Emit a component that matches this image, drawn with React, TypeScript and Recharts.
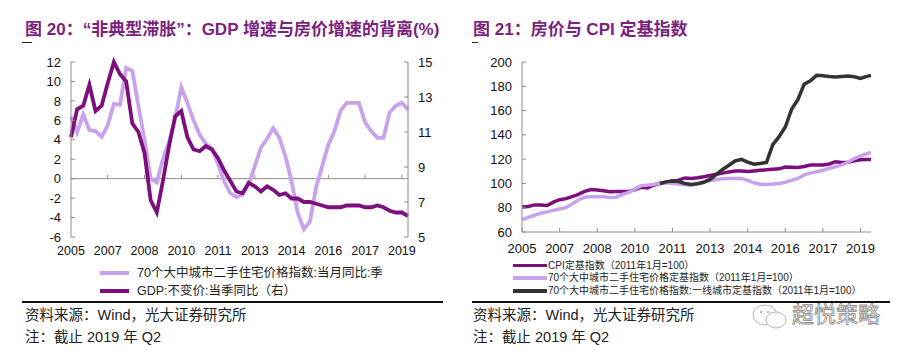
import React from 'react';
import { LineChart, Line, XAxis, YAxis, ReferenceLine } from 'recharts';

// ---- left chart (fig 20): quarterly, 2005Q3 .. 2019Q2 ----
const leftQuarters = [
  '2005Q3', '2005Q4',
  '2006Q1', '2006Q2', '2006Q3', '2006Q4',
  '2007Q1', '2007Q2', '2007Q3', '2007Q4',
  '2008Q1', '2008Q2', '2008Q3', '2008Q4',
  '2009Q1', '2009Q2', '2009Q3', '2009Q4',
  '2010Q1', '2010Q2', '2010Q3', '2010Q4',
  '2011Q1', '2011Q2', '2011Q3', '2011Q4',
  '2012Q1', '2012Q2', '2012Q3', '2012Q4',
  '2013Q1', '2013Q2', '2013Q3', '2013Q4',
  '2014Q1', '2014Q2', '2014Q3', '2014Q4',
  '2015Q1', '2015Q2', '2015Q3', '2015Q4',
  '2016Q1', '2016Q2', '2016Q3', '2016Q4',
  '2017Q1', '2017Q2', '2017Q3', '2017Q4',
  '2018Q1', '2018Q2', '2018Q3', '2018Q4',
  '2019Q1', '2019Q2'
];
const yearLabels = ['2005', '2007', '2008', '2010', '2011', '2013', '2014', '2016', '2017', '2019'];

// 70城二手住宅价格 当月同比 (left axis, %)
const housePriceYoY = [
  6.4, 4.8, 6.6, 5.0, 4.9, 4.3, 5.5, 7.7, 7.6, 11.4,
  11.1, 7.5, 4.0, 0.0, -0.4, 2.0, 3.8, 6.2, 9.4, 7.8,
  6.0, 4.5, 3.6, 3.1, 1.5, -0.3, -1.5, -1.9, -1.6, -0.6,
  1.3, 3.2, 4.1, 5.2, 4.2, 2.3, -0.3, -3.5, -5.2, -4.4,
  -0.9, 1.3, 3.5, 4.9, 7.0, 7.8, 7.8, 7.8, 5.8, 4.9,
  4.2, 4.2, 6.8, 7.5, 7.8, 7.1
];
// GDP 不变价 当季同比 (right axis, %)
const gdpYoY = [
  10.7, 12.3, 12.5, 13.7, 12.2, 12.5, 13.8, 15.0, 14.3, 13.9,
  11.5, 11.0, 9.8, 7.1, 6.4, 8.2, 10.2, 11.9, 12.2, 10.7,
  10.0, 9.9, 10.2, 10.0, 9.5, 8.8, 8.2, 7.6, 7.5, 8.1,
  7.9, 7.6, 7.9, 7.7, 7.4, 7.5, 7.2, 7.2, 7.0, 7.0,
  6.9, 6.8, 6.7, 6.7, 6.7, 6.8, 6.8, 6.8, 6.7, 6.7,
  6.8, 6.7, 6.5, 6.4, 6.4, 6.2
];
const leftTicksL = [-6, -4, -2, 0, 2, 4, 6, 8, 10, 12];
const leftTicksR = [5, 7, 9, 11, 13, 15];

// ---- right chart (fig 21): sampled every quarter, 2005-07 .. 2019-06 ----
const rightMonths = [
  '2005-07', '2005-10', '2006-01', '2006-04', '2006-07', '2006-10', '2007-01', '2007-04', '2007-07', '2007-10',
  '2008-01', '2008-04', '2008-07', '2008-10', '2009-01', '2009-04', '2009-07', '2009-10', '2010-01', '2010-04',
  '2010-07', '2010-10', '2011-01', '2011-04', '2011-07', '2011-10', '2012-01', '2012-04', '2012-07', '2012-10',
  '2013-01', '2013-04', '2013-07', '2013-10', '2014-01', '2014-04', '2014-07', '2014-10', '2015-01', '2015-04',
  '2015-07', '2015-10', '2016-01', '2016-04', '2016-07', '2016-10', '2017-01', '2017-04', '2017-07', '2017-10',
  '2018-01', '2018-04', '2018-07', '2018-10', '2019-01', '2019-04', '2019-06'
];
const cpiIndex = [
  80.5, 81.0, 82.3, 82.2, 81.8, 84.6, 86.6, 87.5, 89.2, 91.0,
  93.5, 95.0, 94.6, 94.0, 93.1, 93.4, 93.3, 93.3, 95.0, 96.8,
  96.3, 98.5, 100.0, 101.0, 102.0, 102.7, 104.5, 104.1, 104.6, 105.5,
  106.5, 107.5, 108.5, 109.5, 110.2, 110.2, 109.8, 110.3, 110.8, 111.3,
  111.6, 112.0, 113.5, 113.3, 113.1, 114.0, 115.1, 115.1, 115.1, 116.0,
  117.9, 117.2, 117.5, 118.6, 119.5, 119.8, 119.8
];
const housePriceIndex = [
  70.2, 72.0, 73.8, 75.5, 76.6, 77.8, 78.9, 80.0, 83.0, 86.5,
  88.6, 89.0, 89.0, 89.0, 88.5, 88.6, 91.0, 92.6, 95.5, 98.2,
  98.6, 99.1, 100.3, 100.5, 100.2, 99.6, 99.0, 98.6, 100.0, 101.2,
  102.3, 103.2, 103.8, 104.1, 104.1, 104.1, 102.5, 100.5, 99.4, 99.2,
  99.5, 100.0, 101.0, 102.5, 104.1, 107.0, 108.5, 109.6, 110.8, 112.5,
  113.7, 115.2, 117.4, 120.5, 122.6, 124.5, 125.5
];
const tier1Index = [
  null, null, null, null, null, null, null, null, null, null,
  null, null, null, null, null, null, null, null, null, null,
  null, null, 100.0, 101.3, 102.0, 101.5, 100.0, 99.2, 99.8, 101.0,
  103.3, 107.5, 111.5, 115.0, 118.5, 119.8, 117.5, 115.8, 116.5, 117.3,
  132.0, 138.5, 146.5, 161.0, 169.0, 181.6, 184.5, 189.0, 188.6, 188.0,
  187.6, 188.0, 188.4, 187.8, 186.5, 188.2, 189.0
];
const rightTicksY = [60, 80, 100, 120, 140, 160, 180, 200];

const FONT = "'Liberation Sans', Arial, 'Noto Sans CJK SC', sans-serif";
const TITLE_COLOR = '#7B1F80';
const LIGHT = '#C8A2EC';
const DARK = '#7D0F7D';
const BLACK = '#333333';
const AXIS = '#8c8c8c';

const leftData = leftQuarters.map((q, i) => ({ i, q, house: housePriceYoY[i], gdp: gdpYoY[i] }));
const leftXTicks = yearLabels.map((_, k) => k * 6);

const monthOffset = (s: string) => {
  const [y, m] = s.split('-').map(Number);
  return (y - 2005) * 12 + (m - 7);
};
const rightData = rightMonths.map((d, i) => ({
  m: monthOffset(d), d, cpi: cpiIndex[i], house: housePriceIndex[i], tier1: tier1Index[i]
}));
const rightXTicks = yearLabels.map((_, k) => k * 18);

const abs = (left: number, top: number, extra: React.CSSProperties = {}): React.CSSProperties => ({
  position: 'absolute', left, top, whiteSpace: 'nowrap', ...extra
});

const LeftChart = () => (
  <LineChart width={460} height={270} data={leftData} margin={{ top: 62, right: 12, bottom: 8, left: 31 }}>
    <XAxis
      xAxisId={0}
      dataKey="i"
      type="number"
      domain={[0, 55]}
      ticks={leftXTicks}
      interval={0}
      tickFormatter={(v: number) => yearLabels[v / 6]}
      axisLine={false}
      tickLine={false}
      tickSize={6}
      tickMargin={3}
      height={25}
      tick={{ fill: '#111', fontSize: 12.5, fontFamily: FONT }}
    />
    <YAxis
      yAxisId="left"
      domain={[-6, 12]}
      ticks={leftTicksL}
      interval={0}
      width={40}
      axisLine={{ stroke: AXIS }}
      tickLine={{ stroke: AXIS }}
      tickSize={-4}
      tickMargin={14}
      tick={{ fill: '#111', fontSize: 13, fontFamily: FONT }}
    />
    <YAxis
      yAxisId="right"
      orientation="right"
      domain={[5, 15]}
      ticks={leftTicksR}
      interval={0}
      width={40}
      axisLine={{ stroke: AXIS }}
      tickLine={{ stroke: AXIS }}
      tickSize={-4}
      tickMargin={14}
      tick={{ fill: '#111', fontSize: 13, fontFamily: FONT, textAnchor: 'start' }}
    />
    <ReferenceLine yAxisId="left" y={0} stroke={AXIS} strokeWidth={1} />
    {leftXTicks.slice(1).map((t) => (
      <ReferenceLine
        key={t}
        yAxisId="left"
        segment={[{ x: t, y: 0 }, { x: t, y: 0.4 }]}
        stroke={AXIS}
        strokeWidth={1}
      />
    ))}
    <Line yAxisId="left" dataKey="house" type="linear" stroke={LIGHT} strokeWidth={3.8} dot={false} isAnimationActive={false} />
    <Line yAxisId="right" dataKey="gdp" type="linear" stroke={DARK} strokeWidth={3.8} dot={false} isAnimationActive={false} />
  </LineChart>
);

const RightChart = () => (
  <LineChart width={448} height={270} data={rightData} margin={{ top: 62, right: 37, bottom: 13, left: 22 }}>
    <XAxis
      dataKey="m"
      type="number"
      domain={[0, 167]}
      ticks={rightXTicks}
      interval={0}
      tickFormatter={(v: number) => yearLabels[v / 18]}
      axisLine={{ stroke: AXIS }}
      tickLine={{ stroke: AXIS }}
      tickSize={-4}
      tickMargin={16}
      height={25}
      tick={{ fill: '#111', fontSize: 13, fontFamily: FONT }}
    />
    <YAxis
      domain={[60, 200]}
      ticks={rightTicksY}
      interval={0}
      width={40}
      axisLine={{ stroke: AXIS }}
      tickLine={{ stroke: AXIS }}
      tickSize={-4}
      tickMargin={14}
      tick={{ fill: '#111', fontSize: 13, fontFamily: FONT }}
    />
    <Line dataKey="cpi" type="linear" stroke={DARK} strokeWidth={3.5} dot={false} isAnimationActive={false} />
    <Line dataKey="house" type="linear" stroke={LIGHT} strokeWidth={3.5} dot={false} isAnimationActive={false} />
    <Line dataKey="tier1" type="linear" stroke={BLACK} strokeWidth={3.5} dot={false} isAnimationActive={false} />
  </LineChart>
);

const Swatch = ({ left, top, width, color, h = 4 }: { left: number; top: number; width: number; color: string; h?: number }) => (
  <div style={abs(left, top, { width, height: h, background: color })} />
);

export default function App() {
  const titleStyle: React.CSSProperties = { fontSize: 17, fontWeight: 'bold', color: TITLE_COLOR, lineHeight: '22px' };
  const srcStyle: React.CSSProperties = { fontSize: 14.5, color: '#222', lineHeight: '18px' };
  const legL: React.CSSProperties = { fontSize: 12.5, color: '#222', lineHeight: '16px' };
  const legR: React.CSSProperties = { fontSize: 10, color: '#222', lineHeight: '13px' };
  return (
    <div style={{ position: 'absolute', left: 0, top: 0, width: 908, height: 354, background: '#fff', fontFamily: FONT, overflow: 'hidden' }}>
      {/* titles */}
      <div style={abs(25, 19, titleStyle)}>图 20：“非典型滞胀”：GDP 增速与房价增速的背离(%)</div>
      <div style={abs(473, 19, titleStyle)}>图 21：房价与 CPI 定基指数</div>
      <div style={abs(22, 42, { width: 10, height: 1, background: '#222' })} />
      <div style={abs(472, 42, { width: 6, height: 1, background: '#222' })} />

      {/* charts */}
      <div style={abs(0, 0)}><LeftChart /></div>
      <div style={abs(460, 0)}><RightChart /></div>

      {/* left legend */}
      <Swatch left={100} top={271} width={29} color={LIGHT} />
      <div style={abs(137, 265, legL)}>70个大中城市二手住宅价格指数:当月同比:季</div>
      <Swatch left={100} top={289} width={29} color={DARK} />
      <div style={abs(137, 283, legL)}>GDP:不变价:当季同比（右）</div>

      {/* right legend */}
      <Swatch left={513} top={263.5} width={34} color={DARK} h={3.5} />
      <div style={abs(548, 258.5, legR)}>CPI定基指数（2011年1月=100）</div>
      <Swatch left={513} top={276} width={34} color={LIGHT} h={3.5} />
      <div style={abs(548, 271, legR)}>70个大中城市二手住宅价格定基指数（2011年1月=100）</div>
      <Swatch left={513} top={289} width={34} color={BLACK} h={3.5} />
      <div style={abs(548, 284, legR)}>70个大中城市二手住宅价格指数:一线城市定基指数（2011年1月=100）</div>

      {/* separators */}
      <div style={abs(22, 301, { width: 421, height: 1.5, background: '#111' })} />
      <div style={abs(472, 301, { width: 418, height: 1.5, background: '#111' })} />

      {/* sources */}
      <div style={abs(25, 306, srcStyle)}>资料来源：Wind，光大证券研究所</div>
      <div style={abs(25, 328, srcStyle)}>注：截止 2019 年 Q2</div>
      <div style={abs(473, 306, srcStyle)}>资料来源：Wind，光大证券研究所</div>
      <div style={abs(473, 328, srcStyle)}>注：截止 2019 年 Q2</div>

      {/* watermark */}
      <svg style={abs(750, 302)} width={40} height={30}>
        <ellipse cx={15} cy={13} rx={12} ry={10} fill="none" stroke="#b5b5b5" strokeWidth={1} />
        <ellipse cx={26} cy={18} rx={10} ry={8} fill="#fff" stroke="#b5b5b5" strokeWidth={1} />
        <circle cx={11} cy={10} r={1.2} fill="#b5b5b5" />
        <circle cx={18} cy={10} r={1.2} fill="#b5b5b5" />
      </svg>
      <div style={abs(792, 302, { fontSize: 22, lineHeight: '26px', color: 'transparent', WebkitTextStroke: '0.8px #8a8a8a' })}>超悦策略</div>
    </div>
  );
}
